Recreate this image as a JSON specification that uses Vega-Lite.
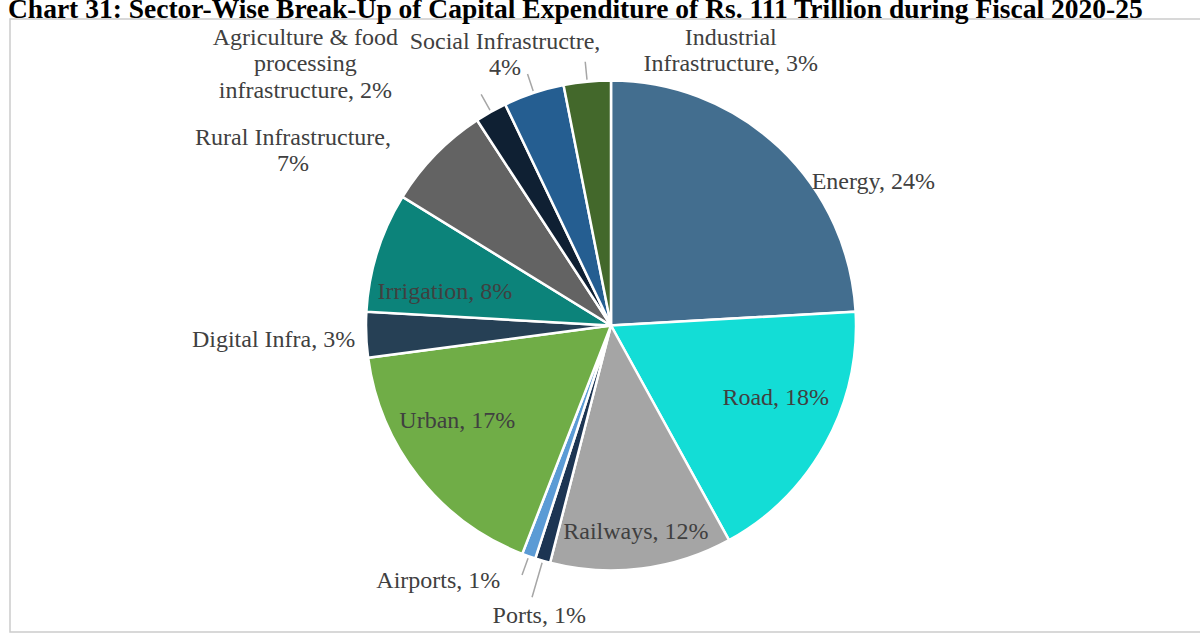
{
  "$schema": "https://vega.github.io/schema/vega-lite/v6.json",
  "autosize": {"type": "none"},
  "width": 1202,
  "height": 613,
  "padding": {"left": 10, "top": 19, "right": 0, "bottom": 5},
  "background": "white",
  "title": {
    "text": "Chart 31: Sector-Wise Break-Up of Capital Expenditure of Rs. 111 Trillion during Fiscal 2020-25",
    "anchor": "start",
    "frame": "group",
    "font": "Liberation Serif",
    "fontSize": 27.5,
    "fontWeight": "bold",
    "color": "#000000",
    "offset": -4,
    "dx": -2
  },
  "view": {"stroke": "#CCCCCC", "strokeWidth": 1.5},
  "data": {
    "values": [
      {"sector": "Energy", "v": 24.1, "idx": 1, "label": ["Energy, 24%"]},
      {"sector": "Road", "v": 17.9, "idx": 2, "label": ["Road, 18%"]},
      {"sector": "Railways", "v": 12.0, "idx": 3, "label": ["Railways, 12%"]},
      {"sector": "Ports", "v": 1.0, "idx": 4, "label": ["Ports, 1%"]},
      {"sector": "Airports", "v": 0.9, "idx": 5, "label": ["Airports, 1%"]},
      {"sector": "Urban", "v": 17.0, "idx": 6, "label": ["Urban, 17%"]},
      {"sector": "Digital Infra", "v": 3.0, "idx": 7, "label": ["Digital Infra, 3%"]},
      {"sector": "Irrigation", "v": 7.9, "idx": 8, "label": ["Irrigation, 8%"]},
      {"sector": "Rural Infrastructure", "v": 7.0, "idx": 9, "label": ["Rural Infrastructure,", "7%"]},
      {"sector": "Agriculture & food processing infrastructure", "v": 2.1, "idx": 10, "label": ["Agriculture & food", "processing", "infrastructure, 2%"]},
      {"sector": "Social Infrastructre", "v": 4.0, "idx": 11, "label": ["Social Infrastructre,", "4%"]},
      {"sector": "Industrial Infrastructure", "v": 3.1, "idx": 12, "label": ["Industrial", "Infrastructure, 3%"]}
    ]
  },
  "encoding": {
    "theta": {"field": "v", "type": "quantitative", "stack": true},
    "order": {"field": "idx", "type": "quantitative"}
  },
  "layer": [
    {
      "mark": {"type": "arc", "outerRadius": 245, "stroke": "#FFFFFF", "strokeWidth": 2.5},
      "encoding": {
        "color": {
          "field": "sector", "type": "nominal", "legend": null,
          "scale": {
            "domain": ["Energy", "Road", "Railways", "Ports", "Airports", "Urban", "Digital Infra", "Irrigation", "Rural Infrastructure", "Agriculture & food processing infrastructure", "Social Infrastructre", "Industrial Infrastructure"],
            "range": ["#436E8F", "#13DDD6", "#A5A5A5", "#1C3553", "#5B9BD5", "#70AD47", "#264055", "#0C837A", "#636363", "#0F2033", "#255E91", "#43682B"]
          }
        }
      }
    },
    {
      "mark": {"type": "arc", "padAngle": 3, "innerRadius": 247, "outerRadius": 283, "filled": false, "stroke": "#A6A6A6", "strokeWidth": 1.5},
      "encoding": {
        "strokeOpacity": {"condition": {"test": "datum.sector === 'Ports'", "value": 1}, "value": 0}
      }
    },
    {
      "mark": {"type": "arc", "padAngle": 3, "innerRadius": 247, "outerRadius": 265, "filled": false, "stroke": "#A6A6A6", "strokeWidth": 1.5},
      "encoding": {
        "strokeOpacity": {"condition": {"test": "datum.sector === 'Airports' || datum.sector === 'Social Infrastructre' || datum.sector === 'Agriculture & food processing infrastructure' || datum.sector === 'Industrial Infrastructure'", "value": 1}, "value": 0}
      }
    },
    {
      "mark": {"type": "text", "radius": 200, "dx": 125, "dy": 2, "font": "Liberation Serif", "fontSize": 24, "fill": "#404040", "baseline": "middle", "align": "center", "lineHeight": 26.5},
      "encoding": {"text": {"condition": {"test": "datum.sector === 'Energy'", "field": "label", "type": "nominal"}, "value": ""}}
    },
    {
      "mark": {"type": "text", "radius": 170, "dx": 16, "dy": -10, "font": "Liberation Serif", "fontSize": 24, "fill": "#404040", "baseline": "middle", "align": "center", "lineHeight": 26.5},
      "encoding": {"text": {"condition": {"test": "datum.sector === 'Road'", "field": "label", "type": "nominal"}, "value": ""}}
    },
    {
      "mark": {"type": "text", "radius": 207, "dx": -1, "dy": 1, "font": "Liberation Serif", "fontSize": 24, "fill": "#404040", "baseline": "middle", "align": "center", "lineHeight": 26.5},
      "encoding": {"text": {"condition": {"test": "datum.sector === 'Railways'", "field": "label", "type": "nominal"}, "value": ""}}
    },
    {
      "mark": {"type": "text", "radius": 250, "dx": -2, "dy": 50, "font": "Liberation Serif", "fontSize": 24, "fill": "#404040", "baseline": "middle", "align": "center", "lineHeight": 26.5},
      "encoding": {"text": {"condition": {"test": "datum.sector === 'Ports'", "field": "label", "type": "nominal"}, "value": ""}}
    },
    {
      "mark": {"type": "text", "radius": 270, "dx": -20, "dy": 1, "font": "Liberation Serif", "fontSize": 24, "fill": "#404040", "baseline": "middle", "align": "right", "lineHeight": 26.5},
      "encoding": {"text": {"condition": {"test": "datum.sector === 'Airports'", "field": "label", "type": "nominal"}, "value": ""}}
    },
    {
      "mark": {"type": "text", "radius": 170, "dx": -20, "dy": -10, "font": "Liberation Serif", "fontSize": 24, "fill": "#404040", "baseline": "middle", "align": "center", "lineHeight": 26.5},
      "encoding": {"text": {"condition": {"test": "datum.sector === 'Urban'", "field": "label", "type": "nominal"}, "value": ""}}
    },
    {
      "mark": {"type": "text", "radius": 256, "dx": 0, "dy": 5, "font": "Liberation Serif", "fontSize": 24, "fill": "#404040", "baseline": "middle", "align": "right", "lineHeight": 26.5},
      "encoding": {"text": {"condition": {"test": "datum.sector === 'Digital Infra'", "field": "label", "type": "nominal"}, "value": ""}}
    },
    {
      "mark": {"type": "text", "radius": 170, "dx": -4, "dy": 18, "font": "Liberation Serif", "fontSize": 24, "fill": "#404040", "baseline": "middle", "align": "center", "lineHeight": 26.5},
      "encoding": {"text": {"condition": {"test": "datum.sector === 'Irrigation'", "field": "label", "type": "nominal"}, "value": ""}}
    },
    {
      "mark": {"type": "text", "radius": 250, "dx": -139, "dy": -25, "font": "Liberation Serif", "fontSize": 24, "fill": "#404040", "baseline": "top", "align": "center", "lineHeight": 26.5},
      "encoding": {"text": {"condition": {"test": "datum.sector === 'Rural Infrastructure'", "field": "label", "type": "nominal"}, "value": ""}}
    },
    {
      "mark": {"type": "text", "radius": 40, "dx": -286, "dy": -265, "font": "Liberation Serif", "fontSize": 24, "fill": "#404040", "baseline": "top", "align": "center", "lineHeight": 26.5},
      "encoding": {"text": {"condition": {"test": "datum.sector === 'Agriculture & food processing infrastructure'", "field": "label", "type": "nominal"}, "value": ""}}
    },
    {
      "mark": {"type": "text", "radius": 200, "dx": -43, "dy": -106, "font": "Liberation Serif", "fontSize": 24, "fill": "#404040", "baseline": "top", "align": "center", "lineHeight": 26.5},
      "encoding": {"text": {"condition": {"test": "datum.sector === 'Social Infrastructre'", "field": "label", "type": "nominal"}, "value": ""}}
    },
    {
      "mark": {"type": "text", "radius": 280, "dx": 147, "dy": -21, "font": "Liberation Serif", "fontSize": 24, "fill": "#404040", "baseline": "top", "align": "center", "lineHeight": 26.5},
      "encoding": {"text": {"condition": {"test": "datum.sector === 'Industrial Infrastructure'", "field": "label", "type": "nominal"}, "value": ""}}
    }
  ]
}
